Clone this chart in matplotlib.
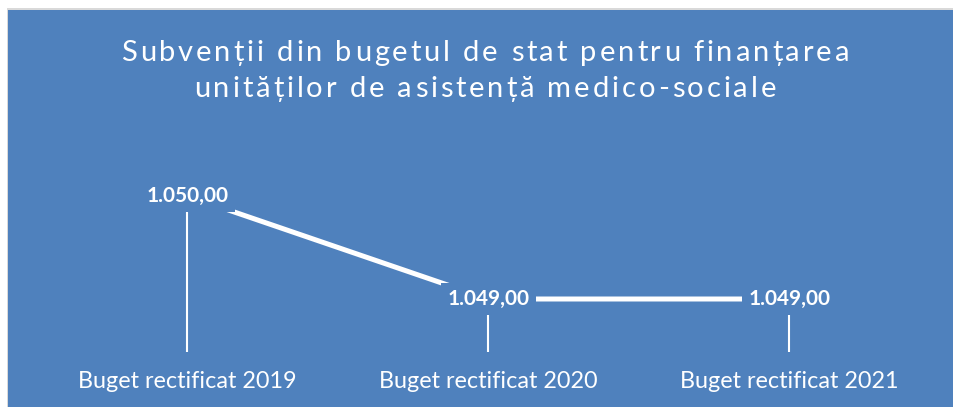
import numpy as np
import matplotlib
matplotlib.use("Agg")
import matplotlib.pyplot as plt
from matplotlib import font_manager
from matplotlib.ft2font import FT2Font
from matplotlib.patches import Rectangle

#chart data
categories = ["Buget rectificat 2019", "Buget rectificat 2020", "Buget rectificat 2021"]
values = [1050.00, 1049.00, 1049.00]
valueLabels = ["1.050,00", "1.049,00", "1.049,00"]
titleLines = ["Subvenții din bugetul de stat pentru finanțarea",
              "unităților de asistență medico-sociale"]

bgBlue = "#4F81BD"
fontList = ["Lato", "Open Sans", "DejaVu Sans"]
plt.rcParams["font.family"] = fontList

fig = plt.figure(figsize=(9.54, 4.07), dpi=100)
W, H = 954.0, 407.0

#outer gray frame and blue chart area
fig.patches.append(Rectangle((7/W, 0), 1, (H-8)/H, transform=fig.transFigure,
                             facecolor="#D9D9D9", edgecolor="none", zorder=-2))
fig.patches.append(Rectangle((8.5/W, 0), 1, (H-9.5)/H, transform=fig.transFigure,
                             facecolor=bgBlue, edgecolor="none", zorder=-1))

#axes placed so that category centers land at the right pixels
ax = fig.add_axes([37/W, (H-352)/H, 903/W, 222/H])
ax.set_facecolor("none")
for s in ax.spines.values():
    s.set_visible(False)
ax.set_xticks([])
ax.set_yticks([])
ax.set_xlim(-0.5, 2.5)
pxPerUnit = 103.0
ax.set_ylim(1049 - 53/pxPerUnit, 1050 + 66/pxPerUnit)

x = np.arange(len(categories))
ybottom = ax.get_ylim()[0]
ax.plot(x, values, color="white", lw=3.6, solid_capstyle="butt", zorder=2, clip_on=False)
ax.vlines(x, ybottom, values, color="white", lw=1.5, zorder=1, clip_on=False)

for xi, v, lab in zip(x, values, valueLabels):
    ax.text(xi, v, lab, ha="center", va="center", color="white", fontsize=15,
            fontweight="bold", zorder=3,
            bbox=dict(facecolor=bgBlue, edgecolor="none", boxstyle="square,pad=0.3"))

for xi, cat in zip(x, categories):
    ax.text(xi, ybottom - 30/pxPerUnit, cat, ha="center", va="center",
            color="white", fontsize=16.8)

#title with letter spacing, placed char by char
titleSize = 21.0
def charAdvance(ch, size):
    for fam in fontList:
        path = font_manager.findfont(font_manager.FontProperties(family=fam),
                                     fallback_to_default=True)
        ft = FT2Font(path)
        if ft.get_char_index(ord(ch)) != 0 or ch == " ":
            ft.set_size(size, 100)
            g = ft.load_char(ord(ch))
            return g.linearHoriAdvance / 65536.0
    return size * 0.5

#spacing chosen so first line spans about 728 px
line1Adv = [charAdvance(c, titleSize) for c in titleLines[0]]
spacing = (728.0 - sum(line1Adv)) / (len(titleLines[0]) - 1)

titleBaseline = [61, 97]
for line, ty in zip(titleLines, titleBaseline):
    adv = [charAdvance(c, titleSize) for c in line]
    total = sum(adv) + spacing * (len(line) - 1)
    pos = 485.0 - total / 2
    for c, a in zip(line, adv):
        if c != " ":
            fig.text(pos / W, (H - ty) / H, c, ha="left", va="baseline",
                     color="white", fontsize=titleSize)
        pos += a + spacing

fig.savefig("out.png", dpi=100)
